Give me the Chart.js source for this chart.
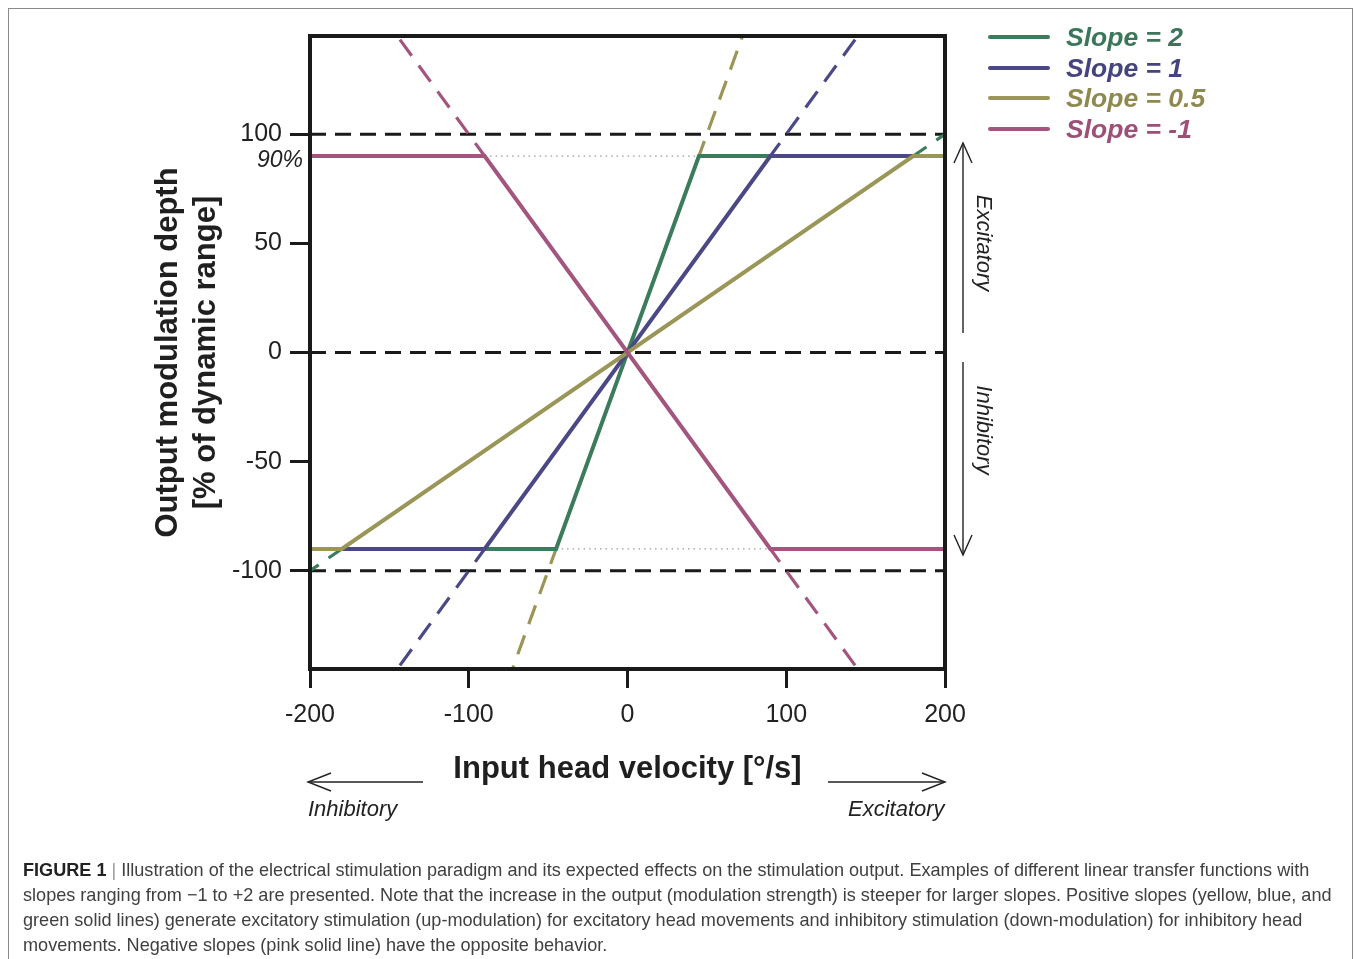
<!DOCTYPE html>
<html>
<head>
<meta charset="utf-8">
<script src="https://cdn.jsdelivr.net/npm/chart.js@4.4.1/dist/chart.umd.min.js"></script>
<style>
  html, body { margin: 0; padding: 0; background: #fff; }
  body { width: 1354px; height: 959px; position: relative; overflow: hidden; font-family: "Liberation Sans", Arial, sans-serif; }
  #frame { position: absolute; left: 8px; top: 8px; width: 1343px; height: 980px; border: 1px solid #8a8a8a; }
  #wrap { position: absolute; left: 0; top: 0; width: 1354px; height: 840px; }
  .leg { position: absolute; left: 988px; height: 30px; }
  .leg .ln { position: absolute; left: 0; top: 13px; width: 62px; height: 4px; border-radius: 2px; }
  .leg .tx { position: absolute; left: 78px; top: 0; font: italic bold 26.5px "Liberation Sans", Arial, sans-serif; line-height: 30px; white-space: nowrap; }
  .ann { position: absolute; font: italic 22px "Liberation Sans", Arial, sans-serif; color: #222; white-space: nowrap; }
  .vtxt { transform-origin: center center; transform: translate(-50%, -50%) rotate(90deg); }
  #caption { position: absolute; left: 23px; top: 858px; font-size: 18.1px; line-height: 25px; color: #404040; white-space: nowrap; }
  #caption b { color: #222; }
</style>
</head>
<body>
<div id="frame"></div>
<div id="wrap"><canvas id="c" width="1354" height="840"></canvas></div>
<svg id="arrows" width="1354" height="959" style="position:absolute;left:0;top:0;pointer-events:none">
  <g stroke="#222" stroke-width="1.4" fill="none">
    <line x1="963" y1="143" x2="963" y2="333"/>
    <polyline points="954,163 963,143 972,163"/>
    <line x1="963" y1="362" x2="963" y2="555"/>
    <polyline points="954,535 963,555 972,535"/>
    <line x1="308" y1="782" x2="423" y2="782"/>
    <polyline points="331,773 308,782 331,791"/>
    <line x1="828" y1="782" x2="945" y2="782"/>
    <polyline points="922,773 945,782 922,791"/>
  </g>
</svg>
<div class="ann vtxt" style="left:984px;top:243px">Excitatory</div>
<div class="ann vtxt" style="left:984px;top:430px">Inhibitory</div>
<div class="ann" style="left:308px;top:796px">Inhibitory</div>
<div class="ann" style="left:848px;top:796px">Excitatory</div>
<div id="legend"></div>
<div id="caption"><b>FIGURE 1</b> <span style="color:#999">|</span> Illustration of the electrical stimulation paradigm and its expected effects on the stimulation output. Examples of different linear transfer functions with<br>slopes ranging from &minus;1 to +2 are presented. Note that the increase in the output (modulation strength) is steeper for larger slopes. Positive slopes (yellow, blue, and<br>green solid lines) generate excitatory stimulation (up-modulation) for excitatory head movements and inhibitory stimulation (down-modulation) for inhibitory head<br>movements. Negative slopes (pink solid line) have the opposite behavior.</div>
<script>
// ---- data ----
const xTicks = [-200, -100, 0, 100, 200];
const yTicks = [-100, -50, 0, 50, 100];
const pctTicks = [90];
const xRange = [-200, 200];
const yRange = [-145, 145];

const seriesNames = ['Slope = 2', 'Slope = 1', 'Slope = 0.5', 'Slope = -1'];
const seriesColors = ['#3c7c5c', '#4a4986', '#9a9657', '#a3557e'];
const legendTextColors = ['#3a775a', '#45447f', '#8e8a4f', '#9e4f78'];

// solid transfer functions (saturating at +/-90 %)
const slope2X = [-200, -45, 45, 200];
const slope2Y = [-90, -90, 90, 90];
const slope1X = [-200, -90, 90, 200];
const slope1Y = [-90, -90, 90, 90];
const slopeHalfX = [-200, -180, 180, 200];
const slopeHalfY = [-90, -90, 90, 90];
const slopeNegX = [-200, -90, 90, 200];
const slopeNegY = [90, 90, -90, -90];

// dashed unsaturated extensions
const extOliveTopX = [45, 72.5],   extOliveTopY = [90, 145];
const extOliveBotX = [-45, -72.5], extOliveBotY = [-90, -145];
const extBlueTopX = [90, 145],     extBlueTopY = [90, 145];
const extBlueBotX = [-90, -145],   extBlueBotY = [-90, -145];
const extPinkTopX = [-90, -145],   extPinkTopY = [90, 145];
const extPinkBotX = [90, 145],     extPinkBotY = [-90, -145];
const extGreenTopX = [180, 200],   extGreenTopY = [90, 100];
const extGreenBotX = [-180, -200], extGreenBotY = [-90, -100];

// reference levels
const refLevels = [100, 0, -100];
const dotTopX = [-90, 45], dotTopY = [90, 90];
const dotBotX = [-45, 90], dotBotY = [-90, -90];

// ---- build ----
const pts = (xs, ys) => xs.map((x, i) => ({ x: x, y: ys[i] }));
const datasets = [];
refLevels.forEach(v => datasets.push({
  data: pts(xRange, [v, v]), borderColor: '#1a1a1a', borderWidth: 3, borderDash: [16, 9], order: 20
}));
datasets.push({ data: pts(dotTopX, dotTopY), borderColor: '#9a9a9a', borderWidth: 1.3, borderDash: [1.5, 4], order: 19 });
datasets.push({ data: pts(dotBotX, dotBotY), borderColor: '#9a9a9a', borderWidth: 1.3, borderDash: [1.5, 4], order: 19 });
const ext = [
  [extOliveTopX, extOliveTopY, 2], [extOliveBotX, extOliveBotY, 2],
  [extBlueTopX, extBlueTopY, 1], [extBlueBotX, extBlueBotY, 1],
  [extPinkTopX, extPinkTopY, 3], [extPinkBotX, extPinkBotY, 3],
  [extGreenTopX, extGreenTopY, 0], [extGreenBotX, extGreenBotY, 0]
];
ext.forEach(e => datasets.push({
  data: pts(e[0], e[1]), borderColor: seriesColors[e[2]], borderWidth: 3.2, borderDash: [20, 12], borderDashOffset: 4, order: 10
}));
const solids = [[slope2X, slope2Y, 0, 4], [slope1X, slope1Y, 1, 3], [slopeHalfX, slopeHalfY, 2, 2], [slopeNegX, slopeNegY, 3, 1]];
solids.forEach(s => datasets.push({
  label: seriesNames[s[2]], data: pts(s[0], s[1]), borderColor: seriesColors[s[2]], borderWidth: 4, order: s[3]
}));
datasets.forEach(d => { d.showLine = true; d.pointRadius = 0; d.fill = false; d.borderCapStyle = 'butt'; });

const frame = {
  id: 'frame',
  afterDatasetsDraw(chart) {
    const a = chart.chartArea, ctx = chart.ctx;
    ctx.save();
    ctx.strokeStyle = '#1a1a1a';
    ctx.lineWidth = 4;
    ctx.strokeRect(a.left, a.top, a.right - a.left, a.bottom - a.top);
    ctx.restore();
  }
};

const tickFont = { family: '"Liberation Sans", Arial, sans-serif', size: 25 };
new Chart(document.getElementById('c'), {
  type: 'scatter',
  data: { datasets: datasets },
  options: {
    responsive: false,
    animation: false,
    events: [],
    layout: { padding: { left: 0, top: 36, right: 409, bottom: 0 } },
    plugins: { legend: { display: false }, tooltip: { enabled: false } },
    scales: {
      x: {
        type: 'linear', position: 'bottom', min: xRange[0], max: xRange[1],
        afterBuildTicks: s => { s.ticks = xTicks.map(v => ({ value: v })); },
        afterFit: s => { s.height = 171; },
        ticks: { callback: v => String(v), font: tickFont, color: '#222', padding: 12, maxRotation: 0 },
        grid: { drawOnChartArea: false, drawTicks: true, tickLength: 19, tickWidth: 3, tickColor: '#1a1a1a' },
        border: { display: false },
        title: { display: true, text: 'Input head velocity [°/s]', color: '#1f1f1f',
                 font: { family: '"Liberation Sans", Arial, sans-serif', size: 31, weight: 'bold', lineHeight: '38px' },
                 padding: { top: 0, bottom: 52 } }
      },
      y: {
        type: 'linear', position: 'left', min: yRange[0], max: yRange[1], weight: 0,
        afterBuildTicks: s => { s.ticks = yTicks.map(v => ({ value: v })); },
        afterFit: s => { s.width = 310; },
        ticks: { callback: v => String(v), font: tickFont, color: '#222', padding: 8 },
        grid: { drawOnChartArea: false, drawTicks: true, tickLength: 20, tickWidth: 3, tickColor: '#1a1a1a' },
        border: { display: false },
        title: { display: true, text: ['Output modulation depth', '[% of dynamic range]'], color: '#1f1f1f',
                 font: { family: '"Liberation Sans", Arial, sans-serif', size: 31, weight: 'bold', lineHeight: '38px' },
                 padding: { top: 149, bottom: 0 } }
      },
      yPct: {
        type: 'linear', position: 'left', min: yRange[0], max: yRange[1], weight: -1,
        afterBuildTicks: s => { s.ticks = pctTicks.map(v => ({ value: v })); },
        afterFit: s => { s.width = 0; },
        ticks: { callback: v => v + '%', mirror: true, labelOffset: 5, font: { family: '"Liberation Sans", Arial, sans-serif', size: 23, style: 'italic' }, color: '#222', padding: -53 },
        grid: { display: false, drawTicks: false },
        border: { display: false }
      }
    }
  },
  plugins: [frame]
});

// legend (HTML)
const legend = document.getElementById('legend');
const legTops = [22, 53, 83, 114];
seriesNames.forEach((n, i) => {
  const row = document.createElement('div');
  row.className = 'leg';
  row.style.top = legTops[i] + 'px';
  row.innerHTML = '<div class="ln" style="background:' + seriesColors[i] + '"></div><div class="tx" style="color:' + legendTextColors[i] + '">' + n + '</div>';
  legend.appendChild(row);
});
</script>
</body>
</html>
